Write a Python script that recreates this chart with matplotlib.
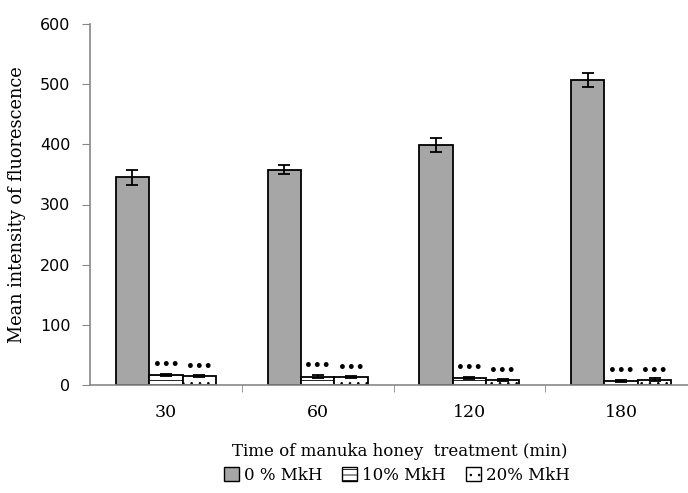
import matplotlib
matplotlib.use("Agg")
import matplotlib.pyplot as plt
import numpy as np
from matplotlib.patches import Patch

categories = ["30", "60", "120", "180"]
series_names = ["0 % MkH", "10% MkH", "20% MkH"]
vals_0 = [345, 358, 399, 507]
err_0 = [13, 8, 12, 12]
vals_10 = [17, 14, 12, 7]
err_10 = [2, 3, 2, 2]
vals_20 = [15, 13, 8, 9]
err_20 = [2, 2, 2, 2]
yticks = [0, 100, 200, 300, 400, 500, 600]

plt.rcParams['hatch.linewidth'] = 0.6
plt.rcParams['hatch.color'] = '#888888'

fig = plt.figure(figsize=(6.88, 4.93), dpi=100)
ax = fig.add_axes([90/688, 1-385/493, 607/688, 361/493])

x = np.arange(len(categories))
w = 0.22
faces = ['#A6A6A6', 'white', 'white']
hatches = [None, '---', '..']
series = [(vals_0, err_0), (vals_10, err_10), (vals_20, err_20)]
for i, (v, e) in enumerate(series):
    xs = x + (i - 1) * w
    ax.bar(xs, v, width=w, color=faces[i], edgecolor='black', linewidth=1.3,
           hatch=hatches[i], zorder=2)
    ax.errorbar(xs, v, yerr=e, fmt='none', ecolor='black', elinewidth=1.3,
                capsize=4, capthick=1.3, zorder=3)
    if i > 0:
        for xx, vv, ee in zip(xs, v, e):
            ax.text(xx, vv + ee + 3 + (0 if i == 1 else -2), '•••', ha='center', va='bottom',
                    fontsize=10, fontweight='bold', color='black', family='DejaVu Sans')

ax.set_xlim(-0.5, 3.5)
ax.set_ylim(0, 600)
ax.set_yticks(yticks)
ax.set_yticklabels([str(t) for t in yticks], fontsize=11.5, family='DejaVu Sans')
ax.set_xticks(x)
ax.set_xticklabels(categories, fontsize=12.5, family='DejaVu Serif')
ax.tick_params(axis='x', length=0, pad=14)
ax.set_xticks([0.5, 1.5, 2.5], minor=True)
ax.tick_params(axis='x', which='minor', length=5, color='#888888', direction='out')
ax.tick_params(axis='y', length=6, color='#888888', direction='out', pad=8)
for s in ['top', 'right']:
    ax.spines[s].set_visible(False)
for s in ['left', 'bottom']:
    ax.spines[s].set_color('#888888')
    ax.spines[s].set_linewidth(1.2)

ax.set_ylabel('Mean intensity of fluorescence', fontsize=12.8, family='DejaVu Serif', labelpad=10)
fig.text(400/688, 1-452/493, 'Time of manuka honey  treatment (min)', ha='center', va='center',
         fontsize=12, family='DejaVu Serif')

handles = [Patch(facecolor=faces[i], edgecolor='black', hatch=hatches[i], label=series_names[i])
           for i in range(3)]
fig.legend(handles=handles, loc='center', bbox_to_anchor=(397/688, 1-475/493), ncol=3,
           frameon=False, prop={'family': 'DejaVu Serif', 'size': 12},
           handlelength=0.9, handleheight=0.9, handletextpad=0.3, columnspacing=1.2)

fig.savefig('out.png', dpi=100)
